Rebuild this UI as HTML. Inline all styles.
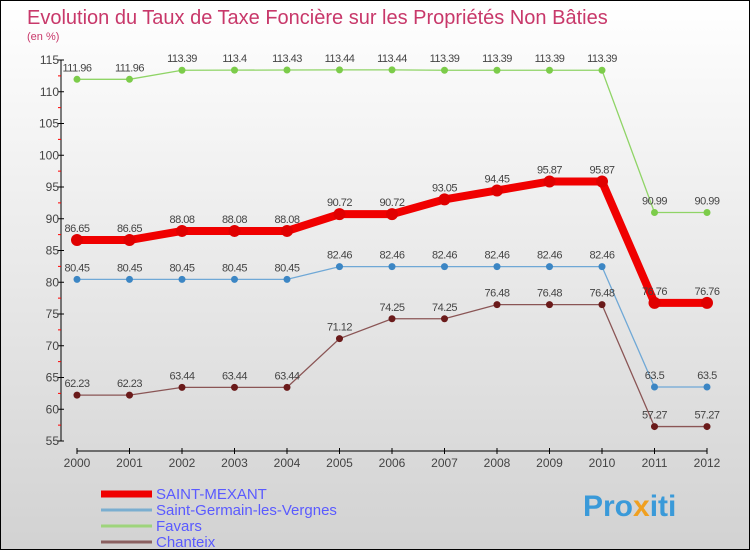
<!DOCTYPE html>
<html><head><meta charset="utf-8"><style>
body{margin:0}
#c{width:750px;height:550px;position:relative;box-sizing:border-box;border:1px solid #000;background:linear-gradient(#fff,#d2d2d2);font-family:"Liberation Sans",sans-serif;overflow:hidden}
</style></head><body>
<div id="c">
<svg id="s" width="750" height="550" style="position:absolute;left:0;top:0">
<text x="26" y="23" font-size="20" fill="#c8386a">Evolution du Taux de Taxe Foncière sur les Propriétés Non Bâties</text>
<text x="26" y="39" font-size="11" fill="#c8386a">(en %)</text>
<text x="582" y="515" font-size="30" font-weight="bold" fill="#3a9ad9">Pro<tspan fill="#f0a020">x</tspan>iti</text>
</svg>
</div>
<script>
const years=[2000,2001,2002,2003,2004,2005,2006,2007,2008,2009,2010,2011,2012];
const yTicks=[55,60,65,70,75,80,85,90,95,100,105,110,115];
const seriesNames=["SAINT-MEXANT","Saint-Germain-les-Vergnes","Favars","Chanteix"];
const saintMexant=[86.65,86.65,88.08,88.08,88.08,90.72,90.72,93.05,94.45,95.87,95.87,76.76,76.76];
const saintGermain=[80.45,80.45,80.45,80.45,80.45,82.46,82.46,82.46,82.46,82.46,82.46,63.5,63.5];
const favars=[111.96,111.96,113.39,113.4,113.43,113.44,113.44,113.39,113.39,113.39,113.39,90.99,90.99];
const chanteix=[62.23,62.23,63.44,63.44,63.44,71.12,74.25,74.25,76.48,76.48,76.48,57.27,57.27];
const NS="http://www.w3.org/2000/svg",s=document.getElementById('s');
const X=i=>76+i*52.5, Y=v=>440-(v-55)*381/60;
function mk(t,a,p){const e=document.createElementNS(NS,t);for(const k in a)e.setAttribute(k,a[k]);(p||s).appendChild(e);return e;}
const ax=mk('g',{});


mk('line',{x1:60,y1:59,x2:60,y2:440,stroke:'#000'},ax);
mk('line',{x1:76,y1:450,x2:706,y2:450,stroke:'#000'},ax);
yTicks.forEach((v,i)=>{
 mk('line',{x1:57,x2:63,y1:Y(v),y2:Y(v),stroke:'#000'},ax);
 if(i<yTicks.length-1) mk('line',{x1:57,x2:60,y1:Y(v+2.5),y2:Y(v+2.5),stroke:'#f00'},ax);
 const t=mk('text',{x:58,y:Y(v)+4,'text-anchor':'end','font-size':12,fill:'#444'},ax);t.textContent=v;
 
 
});
years.forEach((y,i)=>{
 mk('line',{x1:X(i),x2:X(i),y1:447,y2:453,stroke:'#000'},ax);
 const t=mk('text',{x:X(i),y:466,'text-anchor':'middle','font-size':12,fill:'#444'},ax);t.textContent=y;
 
 
});
const defs=[[favars,'#8fd466','#7ccc4a',1.3,'favars'],[saintGermain,'#6fa8d6','#3c86c4',1.3,'saint-germain'],[chanteix,'#8a5555','#6a1a1a',1.3,'chanteix'],[saintMexant,'#f00000','#e00000',8,'saint-mexant']];
defs.forEach(([d,c,dc,w,n])=>{
 const g=mk('g',{});
 
 
 mk('polyline',{points:d.map((v,i)=>X(i)+','+Y(v)).join(' '),fill:'none',stroke:c,'stroke-width':w},g);
 d.forEach((v,i)=>{
  const p=mk('circle',{cx:X(i),cy:Y(v),r:w>2?6:3.5,fill:dc},g);
  
  
  const t=mk('text',{x:X(i),y:Y(v)-8,'text-anchor':'middle','font-size':11,fill:'#444','letter-spacing':'-0.5'},g);t.textContent=v;
  
  
 });
});
const lc=['#f00000','#7aaed0','#9ed47c','#8a6060'],lw=[7,3,3,3];
seriesNames.forEach((n,i)=>{
 const y=493+i*16;
 const g=mk('g',{});
 
 
 mk('line',{x1:100,x2:151,y1:y,y2:y,stroke:lc[i],'stroke-width':lw[i]},g);
 const t=mk('text',{x:155,y:y+5,'font-size':15,fill:'#5a5aff'},g);t.textContent=n;
});
</script>
</body></html>
